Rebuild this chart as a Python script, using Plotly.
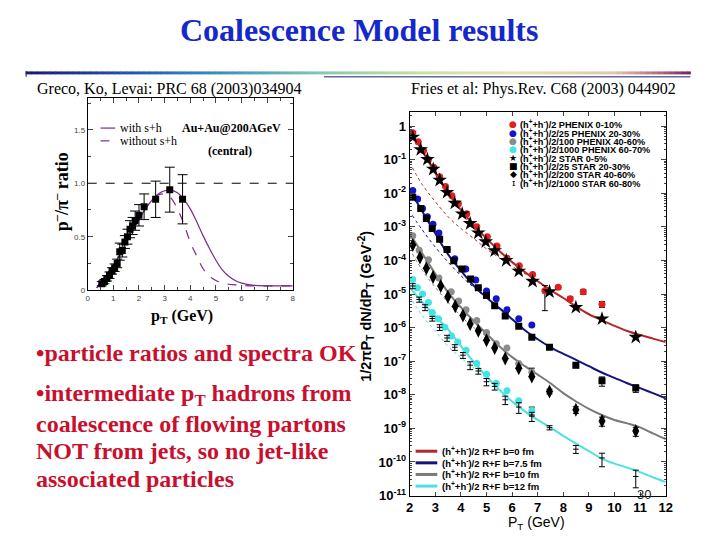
import plotly.graph_objects as go

W, H = 720, 540

# ---------------- Left panel data (pbar/pi- ratio) ----------------
ratio_x = [0.55, 0.65, 0.75, 0.85, 0.95, 1.05, 1.15, 1.25, 1.35, 1.45, 1.55, 1.65, 1.75, 1.85, 2.0, 2.2, 2.65, 3.2, 3.7]
ratio_y = [0.06, 0.08, 0.11, 0.14, 0.18, 0.21, 0.25, 0.36, 0.37, 0.45, 0.50, 0.57, 0.60, 0.65, 0.70, 0.78, 0.85, 0.94, 0.85]
ratio_err = [0.02, 0.02, 0.025, 0.03, 0.03, 0.035, 0.04, 0.08, 0.06, 0.06, 0.07, 0.08, 0.08, 0.09, 0.10, 0.12, 0.17, 0.21, 0.23]

with_x = [0.35, 0.5, 0.75, 1.0, 1.25, 1.5, 1.75, 2.0, 2.25, 2.5, 2.75, 3.0, 3.25, 3.5, 3.75, 4.0, 4.25, 4.5, 4.75, 5.0, 5.25, 5.5, 5.75, 6.0, 6.5, 7.0, 7.5, 8.0]
with_y = [0.02, 0.07, 0.15, 0.23, 0.33, 0.45, 0.56, 0.66, 0.76, 0.84, 0.90, 0.93, 0.935, 0.91, 0.85, 0.76, 0.64, 0.51, 0.39, 0.28, 0.19, 0.13, 0.09, 0.065, 0.045, 0.04, 0.04, 0.04]
without_x = [0.35, 0.5, 0.75, 1.0, 1.25, 1.5, 1.75, 2.0, 2.25, 2.5, 2.75, 3.0, 3.25, 3.5, 3.75, 4.0, 4.25, 4.5, 4.75, 5.0, 5.25, 5.5, 5.75, 6.0, 6.5, 7.0, 7.5, 8.0]
without_y = [0.02, 0.07, 0.15, 0.23, 0.33, 0.45, 0.56, 0.66, 0.76, 0.84, 0.89, 0.90, 0.86, 0.76, 0.62, 0.45, 0.32, 0.20, 0.13, 0.09, 0.065, 0.055, 0.05, 0.045, 0.04, 0.04, 0.04, 0.04]
unity_x = [0, 8]
unity_y = [1.0, 1.0]
left_xticks = [0, 1, 2, 3, 4, 5, 6, 7, 8]
left_yticks = [0, 0.5, 1.0, 1.5]
left_ytext = ["0", "0.5", "1.0", "1.5"]

# ---------------- Right panel data (spectra) ----------------
phx0_x = [2.12, 2.33, 2.54, 2.73, 2.95, 3.17, 3.4, 3.65, 3.9, 4.23, 4.62, 5.03, 5.41, 5.8, 6.28, 6.8, 7.28, 7.8, 8.27, 8.78, 9.51]
phx0_y = [0.63, 0.34, 0.186, 0.102, 5.8e-2, 3.1e-2, 1.58e-2, 8.5e-3, 4.9e-3, 2.45e-3, 1.0e-3, 5.1e-4, 2.7e-4, 1.17e-4, 6.9e-5, 3.8e-5, 1.26e-5, 1.58e-5, 7.2e-6, 1.17e-5, 5.0e-6]
phx0_ep = [0]*16 + [5.2e-6, 2e-6, 1e-6, 2e-6, 1e-6]
phx0_em = [0]*16 + [9.4e-6, 2e-6, 1e-6, 2e-6, 1e-6]

phx20_x = [2.12, 2.31, 2.5, 2.69, 2.91, 3.14, 3.46, 3.76, 4.19, 4.58, 5.0, 5.38, 5.8, 6.26, 6.77]
phx20_y = [1.2e-2, 6.8e-3, 3.5e-3, 2.0e-3, 1.2e-3, 6.6e-4, 2.1e-4, 1.12e-4, 5.6e-5, 2.6e-5, 1.23e-5, 7.2e-6, 3.4e-6, 1.82e-6, 1.2e-6]

phx40_x = [2.12, 2.37, 2.73, 3.14, 3.62, 3.91, 4.2, 4.62, 5.0, 5.38, 5.8, 6.26, 6.77]
phx40_y = [5.4e-4, 2.0e-4, 1.05e-4, 3.0e-5, 1.17e-5, 6.2e-6, 3.4e-6, 1.62e-6, 7.2e-7, 3.3e-7, 2.45e-7, 8.5e-8, 4.7e-8]
phx40_err = [0]*12 + [1.5e-8]

phx60_x = [2.12, 2.3, 2.5, 2.73, 2.88, 3.12, 3.37, 3.63, 3.88, 4.2, 4.62, 5.0, 5.38, 5.8, 6.26, 6.77]
phx60_y = [2.7e-5, 1.55e-5, 1.0e-5, 5.6e-6, 2.8e-6, 1.82e-6, 1.02e-6, 5.6e-7, 3.7e-7, 2.1e-7, 8.5e-8, 4.1e-8, 2.2e-8, 1.32e-8, 6.6e-9, 3.4e-9]
phx60_err = [0]*15 + [0.9e-9]

star0_x = [2.12, 2.43, 2.69, 2.92, 3.17, 3.46, 3.76, 4.05, 4.36, 4.68, 4.97, 5.32, 5.77, 6.26, 6.8, 7.46, 8.49, 9.51, 10.83]
star0_y = [0.47, 0.2, 0.102, 5.2e-2, 2.45e-2, 1.07e-2, 5.1e-3, 2.45e-3, 1.26e-3, 6.6e-4, 3.6e-4, 1.95e-4, 1.0e-4, 4.8e-5, 2.4e-5, 1.17e-5, 4.0e-6, 1.82e-6, 5.2e-7]

star20_x = [2.12, 2.43, 2.65, 2.88, 3.17, 3.46, 3.72, 4.04, 4.38, 4.68, 5.0, 5.32, 5.73, 6.26, 6.77, 7.46, 8.49, 9.51, 10.83]
star20_y = [7.6e-3, 3.5e-3, 1.78e-3, 8.9e-4, 4.3e-4, 2.1e-4, 9.8e-5, 5.6e-5, 2.8e-5, 1.55e-5, 9.1e-6, 4.5e-6, 2.2e-6, 1.1e-6, 5.2e-7, 2.6e-7, 7.6e-8, 2.6e-8, 1.58e-8]
star20_err = [0]*16 + [1.2e-8, 8e-9, 4e-9]

star40_x = [2.12, 2.4, 2.65, 2.91, 3.21, 3.49, 3.78, 4.08, 4.36, 4.68, 5.0, 5.32, 5.73, 6.26, 6.77, 7.46, 8.49, 9.51, 10.83]
star40_y = [2.9e-4, 1.23e-4, 5.9e-5, 3.2e-5, 1.74e-5, 8.3e-6, 4.3e-6, 2.3e-6, 1.29e-6, 8.1e-7, 4.2e-7, 2.45e-7, 1.2e-7, 6.2e-8, 3.5e-8, 1.26e-8, 3.6e-9, 1.66e-9, 8.3e-10]
star40_err = [0]*15 + [2e-9, 0.8e-9, 0.5e-9, 2.5e-10]

star60_x = [2.12, 2.37, 2.6, 2.88, 3.17, 3.46, 3.76, 4.08, 4.36, 4.68, 5.0, 5.32, 5.73, 6.26, 6.77, 7.46, 8.49, 9.51, 10.83]
star60_y = [1.74e-5, 6.9e-6, 4.0e-6, 1.86e-6, 1.02e-6, 4.9e-7, 2.6e-7, 1.51e-7, 7.6e-8, 5.1e-8, 2.45e-8, 1.78e-8, 7.1e-9, 4.3e-9, 2.3e-9, 1.05e-9, 2.4e-10, 1.32e-10, 3.7e-11]
star60_ep = [3e-6, 1.2e-6, 8e-7, 3e-7, 2e-7, 1e-7, 5e-8, 3e-8, 2e-8, 1e-8, 6e-9, 4e-9, 2e-9, 1.5e-9, 7e-10, 1.5e-10, 7e-11, 5e-11, 2e-11]
star60_em = [3e-6, 1.2e-6, 8e-7, 3e-7, 2e-7, 1e-7, 5e-8, 3e-8, 2e-8, 1e-8, 6e-9, 4e-9, 2e-9, 1.5e-9, 7e-10, 1.5e-10, 6e-11, 6e-11, 2e-11]

theory_x = [2, 2.5, 3, 3.5, 4, 4.5, 5, 5.5, 6, 6.5, 7, 7.5, 8, 8.5, 9, 9.5, 10, 10.5, 11, 11.5, 12]
rf_b0 = [0.79, 0.178, 4.0e-2, 1.0e-2, 3.2e-3, 1.12e-3, 4.5e-4, 1.9e-4, 8.9e-5, 4.5e-5, 2.4e-5, 1.32e-5, 7.6e-6, 4.2e-6, 2.5e-6, 1.66e-6, 1.12e-6, 7.9e-7, 6.0e-7, 4.7e-7, 3.7e-7]
rf_b75 = [1.26e-2, 2.8e-3, 6.3e-4, 1.51e-4, 5.0e-5, 1.78e-5, 7.9e-6, 3.8e-6, 1.78e-6, 8.3e-7, 4.5e-7, 2.6e-7, 1.66e-7, 1.1e-7, 7.1e-8, 4.6e-8, 3.2e-8, 2.2e-8, 1.58e-8, 1.12e-8, 7.9e-9]
rf_b10 = [6.3e-4, 1.58e-4, 4.0e-5, 1.12e-5, 4.0e-6, 1.58e-6, 6.6e-7, 2.8e-7, 1.32e-7, 7.1e-8, 4.0e-8, 2.2e-8, 1.12e-8, 6.3e-9, 3.8e-9, 2.5e-9, 1.78e-9, 1.41e-9, 1.07e-9, 7.1e-10, 4.8e-10]
rf_b12 = [1.58e-5, 5.6e-6, 2.2e-6, 8.9e-7, 2.8e-7, 9.5e-8, 3.5e-8, 1.41e-8, 6.3e-9, 3.2e-9, 1.78e-9, 1.05e-9, 6.0e-10, 3.5e-10, 2.1e-10, 1.26e-10, 8.9e-11, 6.8e-11, 5.0e-11, 3.5e-11, 2.5e-11]

dot_b0_x = [2.1, 2.5, 3, 3.5, 4, 4.5, 5, 5.5, 6, 6.5, 7]
dot_b0_y = [5.8e-2, 1.78e-2, 5.6e-3, 2.0e-3, 8.9e-4, 4.5e-4, 2.2e-4, 1.2e-4, 6.6e-5, 4.0e-5, 2.4e-5]
dot_b75_x = [2.1, 2.5, 3, 3.5, 4, 4.5, 5, 5.5]
dot_b75_y = [2.2e-3, 7.9e-4, 2.5e-4, 8.9e-5, 3.5e-5, 1.58e-5, 7.6e-6, 3.8e-6]
dot_b10_x = [2.1, 2.5, 3, 3.5, 4, 4.5, 5]
dot_b10_y = [1.58e-4, 5.0e-5, 1.58e-5, 5.6e-6, 2.2e-6, 1.0e-6, 5.6e-7]
dot_b12_x = [2.1, 2.5, 3, 3.5, 4, 4.5]
dot_b12_y = [6.3e-6, 2.2e-6, 7.9e-7, 2.8e-7, 1.26e-7, 6.3e-8]

right_yticks = [1, 1e-1, 1e-2, 1e-3, 1e-4, 1e-5, 1e-6, 1e-7, 1e-8, 1e-9, 1e-10, 1e-11]
right_ytext = ["<b>1</b>"] + ["<b>10<sup>-%d</sup></b>" % k for k in range(1, 12)]
right_xticks = [2, 3, 4, 5, 6, 7, 8, 9, 10, 11, 12]

marker_legend = [
    ("●", "#e02020", "(h<sup>+</sup>+h<sup>-</sup>)/2 PHENIX 0-10%"),
    ("●", "#1414c8", "(h<sup>+</sup>+h<sup>-</sup>)/2/25 PHENIX 20-30%"),
    ("●", "#8c8c8c", "(h<sup>+</sup>+h<sup>-</sup>)/2/100 PHENIX 40-60%"),
    ("●", "#40e6e6", "(h<sup>+</sup>+h<sup>-</sup>)/2/1000 PHENIX 60-70%"),
    ("★", "#000000", "(h<sup>+</sup>+h<sup>-</sup>)/2 STAR 0-5%"),
    ("■", "#000000", "(h<sup>+</sup>+h<sup>-</sup>)/2/25 STAR 20-30%"),
    ("◆", "#000000", "(h<sup>+</sup>+h<sup>-</sup>)/2/200 STAR 40-60%"),
    ("ɪ", "#000000", "(h<sup>+</sup>+h<sup>-</sup>)/2/1000 STAR 60-80%"),
]
line_legend = [
    ("#b02828", "(h<sup>+</sup>+h<sup>-</sup>)/2 R+F b=0 fm"),
    ("#14147a", "(h<sup>+</sup>+h<sup>-</sup>)/2 R+F b=7.5 fm"),
    ("#7a7a7a", "(h<sup>+</sup>+h<sup>-</sup>)/2 R+F b=10 fm"),
    ("#50e0e0", "(h<sup>+</sup>+h<sup>-</sup>)/2 R+F b=12 fm"),
]

bullets = [
    "•particle ratios and spectra OK",
    "•intermediate p<sub>T</sub> hadrons from",
    "coalescence of flowing partons",
    "NOT from jets, so no jet-like",
    "associated particles",
]

SERIF = "Liberation Serif"
SANS = "Liberation Sans"
PURPLE = "#7a2a8c"


def px(x):
    return x / W


def py(y):
    return 1 - y / H


def note(x, y, text, size, family, color="black", xanchor="left", angle=0):
    return dict(x=px(x), y=py(y), xref="paper", yref="paper", text=text, showarrow=False, textangle=angle,
                font=dict(family=family, size=size, color=color), xanchor=xanchor, yanchor="middle",
                borderpad=0)


fig = go.Figure()

# ---- left panel traces
fig.add_trace(go.Scatter(x=unity_x, y=unity_y, mode="lines", line=dict(color="black", width=1, dash="dash"),
                         xaxis="x", yaxis="y", showlegend=False))
fig.add_trace(go.Scatter(x=with_x, y=with_y, mode="lines", line=dict(color=PURPLE, width=1.2, shape="spline"),
                         xaxis="x", yaxis="y", showlegend=False))
fig.add_trace(go.Scatter(x=without_x, y=without_y, mode="lines",
                         line=dict(color=PURPLE, width=1.2, dash="dash", shape="spline"),
                         xaxis="x", yaxis="y", showlegend=False))
fig.add_trace(go.Scatter(x=ratio_x, y=ratio_y, mode="markers",
                         marker=dict(symbol="square", size=7, color="black"),
                         error_y=dict(type="data", array=ratio_err, color="black", thickness=1, width=5),
                         xaxis="x", yaxis="y", showlegend=False))


# ---- right panel traces
def line_tr(x, y, color, width=2, dash=None):
    return go.Scatter(x=x, y=y, mode="lines", line=dict(color=color, width=width, dash=dash, shape="spline"),
                      xaxis="x2", yaxis="y2", showlegend=False)


for xx, yy, c in [(dot_b0_x, dot_b0_y, "#b02828"), (dot_b75_x, dot_b75_y, "#14147a"),
                  (dot_b10_x, dot_b10_y, "#7a7a7a"), (dot_b12_x, dot_b12_y, "#50e0e0")]:
    fig.add_trace(line_tr(xx, yy, c, width=1, dash="dot"))

fig.add_trace(line_tr(theory_x, rf_b0, line_legend[0][0]))
fig.add_trace(line_tr(theory_x, rf_b75, line_legend[1][0]))
fig.add_trace(line_tr(theory_x, rf_b10, line_legend[2][0]))
fig.add_trace(line_tr(theory_x, rf_b12, line_legend[3][0]))


def pts(x, y, symbol, size, color, ep=None, em=None, lw=0):
    err = None
    if ep is not None:
        err = dict(type="data", array=ep, arrayminus=em if em is not None else ep, symmetric=em is None,
                   color="black", thickness=1, width=3)
    return go.Scatter(x=x, y=y, mode="markers",
                      marker=dict(symbol=symbol, size=size, color=color, line=dict(width=lw, color="black")),
                      error_y=err, xaxis="x2", yaxis="y2", showlegend=False)


fig.add_trace(pts(phx60_x, phx60_y, "circle", 7, "#40e6e6", phx60_err))
fig.add_trace(pts(star60_x, star60_y, "line-ew", 4, "black", star60_ep, star60_em, lw=1))
fig.add_trace(pts(phx40_x, phx40_y, "circle", 7, "#8c8c8c", phx40_err))
fig.add_trace(pts(star40_x, star40_y, "diamond-tall", 10, "black", star40_err))
fig.add_trace(pts(phx20_x, phx20_y, "circle", 7, "#1414c8"))
fig.add_trace(pts(star20_x, star20_y, "square", 7, "black", star20_err))
fig.add_trace(pts(phx0_x, phx0_y, "circle", 7, "#e02020", phx0_ep, phx0_em))
fig.add_trace(pts(star0_x, star0_y, "star", 11, "black"))

ann = []
shapes = []

# title
ann.append(note(360, 30, "<b>Coalescence Model results</b>", 32, SERIF, "#1428cc", "center"))
# references
ann.append(note(32, 90, "Greco, Ko, Levai: PRC 68 (2003)034904", 16, SERIF))
ann.append(note(412, 90, "Fries et al: Phys.Rev. C68 (2003) 044902", 16, SERIF))

# bullets
for t, yy in zip(bullets, [358, 401, 430, 458, 486]):
    ann.append(note(31, yy, "<b>%s</b>" % t, 24, SERIF, "#c8102e"))

# left axis titles
ann.append(note(57, 195, "<b>p<sup>–</sup>/π<sup>–</sup> ratio</b>", 18, SERIF, "black", "center", -90))
ann.append(note(181, 321, "<b>p<sub>T</sub> (GeV)</b>", 16, SERIF, "black", "center"))
# left legend
ann.append(note(117, 130, "with s+h", 12, SERIF))
ann.append(note(117, 143, "without s+h", 12, SERIF))
ann.append(note(231, 130, "<b>Au+Au@200AGeV</b>", 12, SERIF, "black", "center"))
ann.append(note(229, 153, "<b>(central)</b>", 12, SERIF, "black", "center"))
shapes.append(dict(type="line", xref="paper", yref="paper", x0=px(98), x1=px(113), y0=py(130), y1=py(130),
                   line=dict(color=PURPLE, width=1.2)))
shapes.append(dict(type="line", xref="paper", yref="paper", x0=px(98), x1=px(113), y0=py(143), y1=py(143),
                   line=dict(color=PURPLE, width=1.2, dash="dash")))

# right axis titles
ann.append(note(368, 311, "<b>1/2πP<sub>T</sub> dN/dP<sub>T</sub> (GeV<sup>-2</sup>)</b>", 14.5, SANS,
                "black", "center", -90))
ann.append(note(541, 531, "P<sub>T</sub> (GeV)", 14, SANS, "black", "center"))
ann.append(note(650, 502, "30", 13, SANS, "#222", "center"))

# right marker legend
for i, (sym, col, txt) in enumerate(marker_legend):
    yy = 126 + i * 8.5
    ann.append(note(517, yy, sym, 9, "DejaVu Sans", col, "center"))
    ann.append(note(523, yy, "<b>%s</b>" % txt, 9.2, SANS))

# right line legend
for i, (col, txt) in enumerate(line_legend):
    yy = 458 + i * 11.8
    shapes.append(dict(type="line", xref="paper", yref="paper", x0=px(418), x1=px(440), y0=py(yy), y1=py(yy),
                       line=dict(color=col, width=3)))
    ann.append(note(444, yy, "<b>%s</b>" % txt, 9.5, SANS))

# decorative gradient bar under the title
stops = [(22, (26, 26, 110)), (120, (32, 80, 176)), (220, (58, 144, 192)), (320, (128, 200, 176)),
         (420, (200, 224, 160)), (520, (232, 224, 176)), (620, (224, 200, 168)), (670, (176, 96, 128)),
         (697, (112, 32, 96))]


def grad(xv):
    for (xa, ca), (xb, cb) in zip(stops[:-1], stops[1:]):
        if xa <= xv <= xb:
            t = (xv - xa) / (xb - xa)
            return "rgb(%d,%d,%d)" % tuple(int(a + (b - a) * t) for a, b in zip(ca, cb))
    return "rgb(112,32,96)"


xs = 22
while xs < 697:
    xe = min(xs + 6, 697)
    shapes.append(dict(type="rect", xref="paper", yref="paper", x0=px(xs), x1=px(xe + 0.5), y0=py(75.5), y1=py(72.5),
                       line=dict(width=0), fillcolor=grad((xs + xe) / 2), layer="below"))
    xs = xe
shapes.append(dict(type="line", xref="paper", yref="paper", x0=px(325), x1=px(697), y0=py(78), y1=py(78),
                   line=dict(color="#1a1a70", width=1)))
shapes.append(dict(type="line", xref="paper", yref="paper", x0=px(22.5), x1=px(22.5), y0=py(72), y1=py(78),
                   line=dict(color="#1a1a70", width=1)))

axis_common = dict(showline=True, linecolor="black", linewidth=1, mirror="ticks", ticks="inside",
                   showgrid=False, zeroline=False)

fig.update_layout(
    width=W, height=H, margin=dict(l=0, r=0, t=0, b=0), autosize=False,
    paper_bgcolor="white", plot_bgcolor="rgba(0,0,0,0)",
    showlegend=False,
    xaxis=dict(domain=[px(85), px(293.3)], range=[0, 8], anchor="y", tickvals=left_xticks, ticklen=5,
               tickfont=dict(family=SANS, size=8, color="#444"),
               minor=dict(ticks="inside", ticklen=3, dtick=0.5, showgrid=False), **axis_common),
    yaxis=dict(domain=[py(294.5), py(99.2)], range=[0, 1.8], anchor="x", tickvals=left_yticks,
               ticktext=left_ytext, ticklen=5, tickfont=dict(family=SANS, size=8, color="#444"),
               minor=dict(ticks="inside", ticklen=3, dtick=0.25, showgrid=False), **axis_common),
    xaxis2=dict(domain=[px(412), px(672)], range=[2, 12], anchor="y2", tickvals=right_xticks, ticklen=4,
                tickfont=dict(family=SANS, size=13, color="black", weight="bold"), **axis_common),
    yaxis2=dict(domain=[py(503), py(114)], type="log", range=[-11, 0.41], anchor="x2",
                tickvals=right_yticks, ticktext=right_ytext, ticklen=5,
                tickfont=dict(family=SANS, size=13, color="black"),
                minor=dict(ticks="inside", ticklen=2, dtick="D1", showgrid=False), **axis_common),
    annotations=ann, shapes=shapes,
)

fig.write_html("out.html", config={"displayModeBar": False, "staticPlot": True},
               post_script="document.body.style.margin='0';document.body.style.overflow='hidden';")
